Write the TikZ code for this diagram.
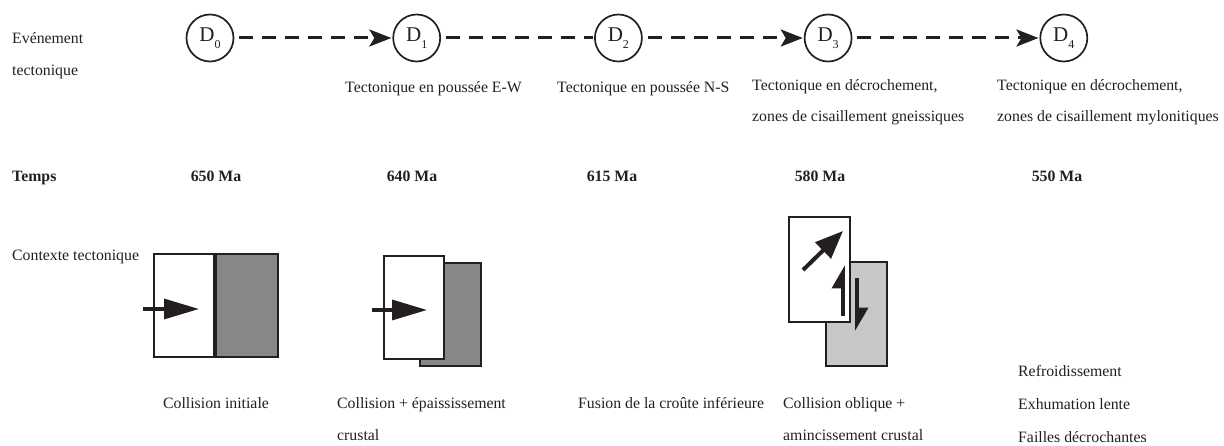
\documentclass[tikz,border=0pt]{standalone}
\usepackage{fontspec}
\setmainfont{Liberation Serif}
\usetikzlibrary{arrows.meta,positioning}
\definecolor{ink}{RGB}{35,31,32}
\definecolor{darkplate}{RGB}{134,135,137}
\definecolor{lightplate}{RGB}{199,200,202}
\newcommand{\evt}[1]{D\raisebox{-7pt}{\fontsize{12}{12}\selectfont #1}}

\begin{document}
\begin{tikzpicture}[
  x=1pt,y=-1pt,
  font=\fontsize{15.8}{19}\selectfont,
  event/.style={circle,draw=ink,line width=1.7pt,minimum size=47pt,inner sep=0pt,text=ink,font=\fontsize{21}{24}\selectfont},
  flow/.style={-{Stealth[length=22pt,width=17pt,inset=5pt]},line width=3pt,dash pattern=on 14pt off 9pt,shorten <=5pt,shorten >=1pt,draw=ink},
  txt/.style={anchor=west,inner sep=0pt,text height=11pt,text depth=3.5pt,text=ink},
  era/.style={txt,anchor=center,font=\fontsize{15.8}{19}\selectfont\bfseries},
  plate/.style={draw=ink,line width=2pt},
  push/.style={-{Triangle[length=35pt,width=20pt]},line width=3.2pt,draw=ink},
  shear/.style={-{Triangle[harpoon,length=20pt,width=22pt]},line width=3.8pt,draw=ink}
]
  \useasboundingbox (0,0) rectangle (1224,446);

  % evenements
  \node[event] (d0) at (210,38) {\evt{0}};
  \node[event,right=158pt of d0] (d1) {\evt{1}};
  \node[event,right=153pt of d1] (d2) {\evt{2}};
  \node[event,right=161pt of d2] (d3) {\evt{3}};
  \node[event,right=187pt of d3] (d4) {\evt{4}};
  \draw[flow] (d0) -- (d1);
  \draw[flow,-] (d1) -- (d2);
  \draw[flow] (d2) -- (d3);
  \draw[flow] (d3) -- (d4);

  \node[txt] (evt) at (12,40) {Evénement};
  \node[txt] (evtb) at (12,72) {tectonique};
  \node[txt] (tec1) at (345,89) {Tectonique en poussée E-W};
  \node[txt] (tec2) at (557,89) {Tectonique en poussée N-S};
  \node[txt] (tec3) at (752,87) {Tectonique en décrochement,};
  \node[txt] (tec3b) at (752,118) {zones de cisaillement gneissiques};
  \node[txt] (tec4) at (997,87) {Tectonique en décrochement,};
  \node[txt] (tec4b) at (997,118) {zones de cisaillement mylonitiques};

  % temps
  \node[txt,font=\fontsize{15.8}{19}\selectfont\bfseries] (temps) at (12,178) {Temps};
  \node[era] (t0) at (216,178) {650 Ma};
  \node[era] (t1) at (412,178) {640 Ma};
  \node[era] (t2) at (612,178) {615 Ma};
  \node[era] (t3) at (820,178) {580 Ma};
  \node[era] (t4) at (1057,178) {550 Ma};

  % contexte
  \node[txt] (ctx) at (12,257) {Contexte tectonique};

  \draw[plate,fill=white] (154,254) rectangle (215,357);
  \draw[plate,fill=darkplate] (215,254) rectangle (278,357);
  \draw[ink,line width=3.5pt] (215,254) -- (215,357);
  \draw[push] (143,309) -- (199,309);

  \draw[plate,fill=darkplate] (420,263) rectangle (481,366);
  \draw[plate,fill=white] (384,256) rectangle (444,359);
  \draw[push] (372,310) -- (427,310);

  \draw[plate,fill=lightplate] (826,262) rectangle (887,366);
  \draw[plate,fill=white] (789,217) rectangle (850,322);
  \draw[-{Triangle[length=28pt,width=22pt]},line width=4pt,draw=ink] (803,270) -- (843,231);
  \draw[shear] (843,316) -- (843,265);
  \draw[shear] (857,278) -- (857,331);

  \node[txt,anchor=center] (c0) at (216,405) {Collision initiale};
  \node[txt] (c1) at (337,405) {Collision + épaississement};
  \node[txt] (c1b) at (337,437) {crustal};
  \node[txt] (c2) at (578,405) {Fusion de la croûte inférieure};
  \node[txt] (c3) at (783,405) {Collision oblique +};
  \node[txt] (c3b) at (783,437) {amincissement crustal};
  \node[txt] (c4) at (1018,373) {Refroidissement};
  \node[txt] (c4b) at (1018,406) {Exhumation lente};
  \node[txt] (c4c) at (1018,439) {Failles décrochantes};
\end{tikzpicture}
\end{document}
